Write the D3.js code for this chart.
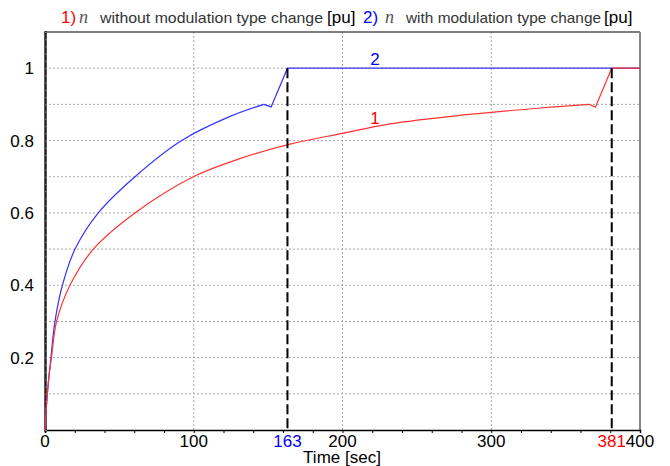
<!DOCTYPE html>
<html>
<head>
<meta charset="utf-8">
<script src="https://cdn.jsdelivr.net/npm/d3@7"></script>
<style>
  body { margin: 0; background: #fff; }
  svg { display: block; font-family: "Liberation Sans", Arial, sans-serif; }
</style>
</head>
<body>
<svg id="chart" width="670" height="466"></svg>
<script>
// speed n [pu] versus time, two runs

var timeRed = [0, 1, 2.7, 4.5, 7.8, 16.8, 32.5, 60.5, 99.7, 131, 164.7, 200, 232, 280, 333, 366, 370, 381, 400];
var speedRed = [0, 0.07, 0.15, 0.205, 0.3, 0.4, 0.5, 0.6, 0.7, 0.75, 0.79, 0.82, 0.846, 0.87, 0.89, 0.90, 0.892, 1.0, 1.0];

var timeBlue = [0, 1.6, 4, 6.7, 11.7, 20.2, 35.8, 60.5, 91.9, 124, 147, 152, 163, 381, 400];
var speedBlue = [0, 0.1, 0.2, 0.3, 0.4, 0.5, 0.6, 0.7, 0.8, 0.866, 0.90, 0.893, 1.0, 1.0, 1.0];

var markTimes = [163, 381];
var markColors = ["#0000ff", "#ff0000"];
var xTicks = [0, 100, 200, 300, 400];
var yTicks = [0.2, 0.4, 0.6, 0.8, 1];

var svg = d3.select("#chart");
// plot box (not "top" - that name is taken by window.top)
var pLeft = 45, pRight = 640, pTop = 32, pBottom = 430;

var x = d3.scaleLinear().domain([0, 400]).range([pLeft, pRight]);
var y = d3.scaleLinear().domain([0, 1.1]).range([pBottom, pTop]);

// grid
svg.selectAll(".hgrid").data(d3.range(1, 11).map(function(i) { return i / 10; }))
  .enter().append("line")
  .attr("x1", pLeft).attr("x2", pRight)
  .attr("y1", function(d) { return y(d); }).attr("y2", function(d) { return y(d); })
  .attr("stroke", "#aaa").attr("stroke-dasharray", "2,2");
svg.selectAll(".vgrid").data([100, 200, 300])
  .enter().append("line")
  .attr("x1", function(d) { return x(d); }).attr("x2", function(d) { return x(d); })
  .attr("y1", pTop).attr("y2", pBottom)
  .attr("stroke", "#aaa").attr("stroke-dasharray", "2,2");

// frame
svg.append("line").attr("x1", pLeft).attr("x2", pRight).attr("y1", pTop).attr("y2", pTop)
  .attr("stroke", "#555").attr("stroke-width", 1.5);
svg.append("line").attr("x1", pRight).attr("x2", pRight).attr("y1", pTop).attr("y2", pBottom)
  .attr("stroke", "#888").attr("stroke-width", 2);

// bottom axis
var xAxis = d3.axisBottom(x).tickValues(d3.range(0, 401, 20)).tickSize(3).tickFormat("");
svg.append("g").attr("transform", "translate(0," + pBottom + ")").call(xAxis)
  .call(function(g) { g.select(".domain").attr("stroke", "#000").attr("stroke-width", 1.5); });

// left axis
var yAxis = d3.axisRight(y).tickValues(d3.range(0, 111, 2).map(function(i) { return i / 100; }))
  .tickSize(2).tickFormat("");
svg.append("g").attr("transform", "translate(" + pLeft + ",0)").call(yAxis)
  .call(function(g) {
    g.select(".domain").attr("stroke", "#222").attr("stroke-width", 2.5);
    g.selectAll(".tick line").attr("stroke", "#777");
  });

// tick labels
svg.selectAll(".ylab").data(yTicks).enter().append("text")
  .attr("x", 34).attr("y", function(d) { return y(d) + 6; })
  .attr("text-anchor", "end").attr("font-size", 17).attr("fill", "#000")
  .text(function(d) { return d; });
svg.selectAll(".xlab").data(xTicks).enter().append("text")
  .attr("x", function(d) { return x(d); }).attr("y", 447)
  .attr("text-anchor", "middle").attr("font-size", 17).attr("fill", "#000")
  .text(function(d) { return d; });
svg.selectAll(".mlab").data(markTimes).enter().append("text")
  .attr("x", function(d) { return x(d); }).attr("y", 447)
  .attr("text-anchor", "middle").attr("font-size", 17)
  .attr("fill", function(d, i) { return markColors[i]; })
  .text(function(d) { return d; });
svg.append("text").attr("x", 342).attr("y", 463).attr("text-anchor", "middle")
  .attr("font-size", 17).attr("fill", "#000").text("Time [sec]");

// curves: smooth rise up to the peak, straight segments through the dip after it
var smooth = d3.line().curve(d3.curveCatmullRom.alpha(0.5))
  .x(function(d) { return x(d[0]); }).y(function(d) { return y(d[1]); });
var straight = d3.line()
  .x(function(d) { return x(d[0]); }).y(function(d) { return y(d[1]); });

function drawSpeed(times, speeds, color) {
  var pts = d3.zip(times, speeds);
  var peak = 0;
  while (peak < pts.length - 1 && pts[peak + 1][1] >= pts[peak][1]) peak++;
  svg.append("path").datum(pts.slice(0, peak + 1))
    .attr("d", smooth).attr("fill", "none").attr("stroke", color).attr("stroke-width", 1.2);
  svg.append("path").datum(pts.slice(peak))
    .attr("d", straight).attr("fill", "none").attr("stroke", color).attr("stroke-width", 1.2);
}
drawSpeed(timeBlue, speedBlue, "#3333ff");
drawSpeed(timeRed, speedRed, "#ff3333");

// dashed markers
svg.selectAll(".mark").data(markTimes).enter().append("line")
  .attr("x1", function(d) { return x(d); }).attr("x2", function(d) { return x(d); })
  .attr("y1", y(1)).attr("y2", pBottom)
  .attr("stroke", "#000").attr("stroke-width", 2).attr("stroke-dasharray", "10,4");

// curve labels
svg.append("text").attr("x", 375).attr("y", 65).attr("text-anchor", "middle")
  .attr("font-size", 17).attr("fill", "#0000ff").text("2");
svg.append("text").attr("x", 375).attr("y", 124).attr("text-anchor", "middle")
  .attr("font-size", 17).attr("fill", "#ff0000").text("1");

// title
var title = svg.append("text").attr("y", 23).attr("font-size", 15).attr("fill", "#333");
title.append("tspan").attr("x", 61).attr("fill", "#ff0000").attr("font-size", 17).text("1)");
title.append("tspan").attr("x", 79).attr("font-family", "'Liberation Serif', serif").attr("font-style", "italic")
  .attr("font-size", 18).attr("fill", "#555").text("n");
title.append("tspan").attr("x", 100).attr("textLength", 223).attr("lengthAdjust", "spacingAndGlyphs")
  .text("without modulation type change");
title.append("tspan").attr("x", 327).attr("fill", "#000").attr("font-size", 17).text("[pu]");
title.append("tspan").attr("x", 363).attr("fill", "#0000ff").attr("font-size", 17).text("2)");
title.append("tspan").attr("x", 385).attr("font-family", "'Liberation Serif', serif").attr("font-style", "italic")
  .attr("font-size", 18).attr("fill", "#555").text("n");
title.append("tspan").attr("x", 406).attr("textLength", 195).attr("lengthAdjust", "spacingAndGlyphs")
  .text("with modulation type change");
title.append("tspan").attr("x", 604).attr("fill", "#000").attr("font-size", 17).text("[pu]");
</script>
</body>
</html>
